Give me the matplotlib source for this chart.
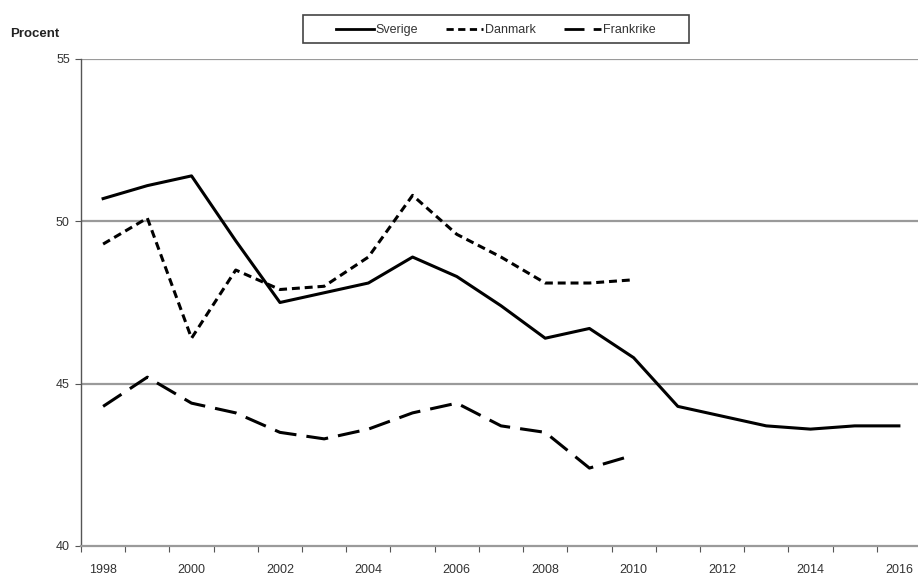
import matplotlib

matplotlib.use("Agg")
import matplotlib.pyplot as plt
from matplotlib.patches import Rectangle
from matplotlib.ticker import FixedLocator

plt.rcParams["font.family"] = ["Liberation Sans", "DejaVu Sans"]

years_sv = list(range(1998, 2017))
sverige = [50.7, 51.1, 51.4, 49.4, 47.5, 47.8, 48.1, 48.9, 48.3, 47.4,
           46.4, 46.7, 45.8, 44.3, 44.0, 43.7, 43.6, 43.7, 43.7]

years_short = list(range(1998, 2011))
danmark = [49.3, 50.1, 46.4, 48.5, 47.9, 48.0, 48.9, 50.8, 49.6, 48.9,
           48.1, 48.1, 48.2]
frankrike = [44.3, 45.2, 44.4, 44.1, 43.5, 43.3, 43.6, 44.1, 44.4, 43.7,
             43.5, 42.4, 42.8]

y_ticks = [40, 45, 50, 55]
x_labels = list(range(1998, 2017, 2))

W, H = 918, 576
fig = plt.figure(figsize=(W / 100, H / 100), dpi=100)
ax = fig.add_axes([81 / W, 30 / H, 840 / W, 487 / H])

for y in (45, 50, 55):
    ax.axhline(y, color="#9a9a9a", lw=1.6, zorder=1)

lw = 2.2
sv_dash = "-"
dk_dash = (0, (2.6, 1.6))
fr_dash = (0, (7.2, 3.3))
ax.plot(years_sv, sverige, color="black", lw=lw, ls=sv_dash, label="Sverige", zorder=3)
ax.plot(years_short, danmark, color="black", lw=lw, ls=dk_dash, label="Danmark", zorder=3)
ax.plot(years_short, frankrike, color="black", lw=lw, ls=fr_dash, label="Frankrike", zorder=3)

ax.set_xlim(1997.5, 2016.5)
ax.set_ylim(40, 55)

ax.set_yticks(y_ticks)
ax.set_yticklabels([str(v) for v in y_ticks], fontsize=9, color="#333333")
ax.set_xticks(x_labels)
ax.set_xticklabels([str(v) for v in x_labels], fontsize=9, color="#333333")
ax.tick_params(axis="x", length=0, pad=13)
ax.tick_params(axis="y", length=4, width=0.8, color="#555555", pad=4)
ax.xaxis.set_minor_locator(FixedLocator([y + 0.5 for y in range(1997, 2017)]))
ax.tick_params(axis="x", which="minor", length=4, width=0.8, color="#555555")

for s in ("top", "right"):
    ax.spines[s].set_visible(False)
ax.spines["left"].set_color("#555555")
ax.spines["left"].set_linewidth(1.0)
ax.spines["bottom"].set_color("#9a9a9a")
ax.spines["bottom"].set_linewidth(1.6)

fig.text(10 / W, 1 - 34 / H, "Procent", fontsize=9.5, fontweight="bold",
         va="center", ha="left", color="#222222")

# legend: entries without frame, box drawn separately
leg = fig.legend(loc="center", bbox_to_anchor=(496 / W, 1 - 30 / H), ncol=3,
                 fontsize=9, frameon=False, handlelength=3.0,
                 columnspacing=2.2, handletextpad=0.15)
for h in leg.get_lines():
    h.set_linewidth(2.0)
for t in leg.get_texts():
    t.set_color("#333333")
fig.patches.append(Rectangle((303 / W, 1 - 43 / H), 386 / W, 28 / H,
                             transform=fig.transFigure, fill=False,
                             edgecolor="#444444", lw=1.2))

fig.savefig("out.png", dpi=100)
